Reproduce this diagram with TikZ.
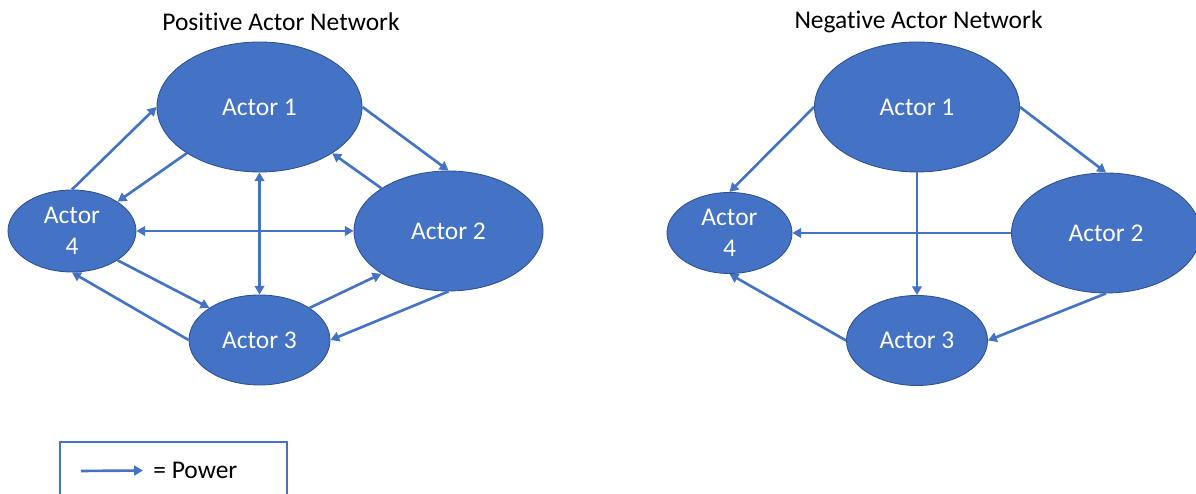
\documentclass[tikz,border=0pt]{standalone}
\usepackage{fontspec}
\setmainfont{Carlito}[Ligatures=NoCommon]
\usetikzlibrary{arrows.meta,shapes.geometric}

\definecolor{actorfill}{HTML}{4472C4}
\definecolor{actoredge}{HTML}{2F528F}

\tikzset{
	actor/.style={ellipse, fill=actorfill, draw=actoredge, line width=0.5pt, text=white, inner sep=0pt, align=center, font=\fontsize{14.5}{17.5}\selectfont},
	power/.style={draw=actorfill, line width=1.5pt, -{Triangle[length=5pt,width=5.5pt]}},
	mutual/.style={power, {Triangle[length=5pt,width=5.5pt]}-{Triangle[length=5pt,width=5.5pt]}},
	heading/.style={font=\fontsize{14.5}{17.5}\selectfont, text=black}
}

\begin{document}
\begin{tikzpicture}
		\useasboundingbox (0,0) rectangle (23.92,9.88);
		
		%titles
		\node[heading] (ptitle) at (5.62,9.44) {Positive Actor Network};
		\node[heading] (ntitle) at (18.37,9.44) {Negative Actor Network};
		
		%positive network
		\node[actor, minimum width=4.1cm, minimum height=2.6cm] (p1) at (5.19,7.74) {Actor 1};
		\node[actor, minimum width=3.78cm, minimum height=2.4cm] (p2) at (8.97,5.26) {Actor 2};
		\node[actor, minimum width=2.82cm, minimum height=1.8cm] (p3) at (5.19,3.08) {Actor 3};
		\node[actor, minimum width=2.56cm, minimum height=1.64cm] (p4) at (1.44,5.26) {Actor\\4};
		
		\draw[power] (p4.north) -- (p1.west);
		\draw[power] (p1.south west) -- (p4.north east);
		\draw[power] (p1.east) -- (p2.north);
		\draw[power] (p2.north west) -- (p1.south east);
		\draw[power] (p4.south east) -- (p3.north west);
		\draw[power] (p3.west) -- (p4.south);
		\draw[power] (p3.north east) -- (p2.south west);
		\draw[power] (p2.south) -- (p3.east);
		\draw[mutual] (p4.east) -- (p2.west);
		\draw[mutual] (p1.south) -- (p3.north);
		
		%negative network
		\node[actor, minimum width=4.1cm, minimum height=2.6cm] (n1) at (18.34,7.74) {Actor 1};
		\node[actor, minimum width=3.78cm, minimum height=2.4cm] (n2) at (22.12,5.22) {Actor 2};
		\node[actor, minimum width=2.82cm, minimum height=1.8cm] (n3) at (18.34,3.07) {Actor 3};
		\node[actor, minimum width=2.5cm, minimum height=1.62cm] (n4) at (14.59,5.22) {Actor\\4};
		
		\draw[power] (n1.west) -- (n4.north);
		\draw[power] (n1.south) -- (n3.north);
		\draw[power] (n1.east) -- (n2.north);
		\draw[power] (n2.west) -- (n4.east);
		\draw[power] (n2.south) -- (n3.east);
		\draw[power] (n3.west) -- (n4.south);
		
		%legend
		\draw[draw=actorfill, line width=0.6pt] (1.2,-0.3) rectangle (5.74,1.04);
		\coordinate (lstart) at (1.62,0.46);
		\node[heading, anchor=west, inner sep=0pt] (ltext) at (3.06,0.47) {= Power};
		\draw[power] (lstart) -- ([xshift=-0.2cm]ltext.west);
\end{tikzpicture}
\end{document}
